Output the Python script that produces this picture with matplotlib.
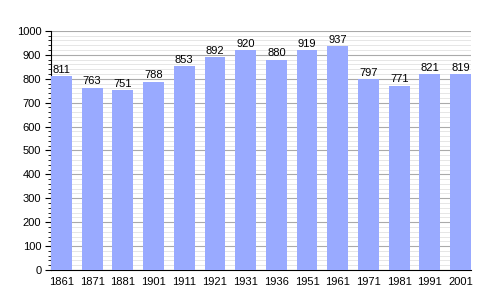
import matplotlib.pyplot as plt
from matplotlib.ticker import MultipleLocator

plt.rcParams['font.family'] = ['Liberation Sans', 'DejaVu Sans']

years = ['1861', '1871', '1881', '1901', '1911', '1921', '1931', '1936',
         '1951', '1961', '1971', '1981', '1991', '2001']
population = [811, 763, 751, 788, 853, 892, 920, 880, 919, 937, 797, 771, 821, 819]

fig = plt.figure(figsize=(5, 3), dpi=100)
ax = fig.add_axes([0.102, 0.1, 0.84, 0.797])

w = 0.68
x = list(range(len(years)))
ax.bar(x, population, width=w, color='#99aaff', zorder=3)
for xi, v in zip(x, population):
    ax.text(xi, v + 5, str(v), ha='center', va='bottom', fontsize=8, zorder=4)

ax.set_xlim(-w / 2, len(years) - 1 + w / 2)
ax.set_ylim(0, 1000)
ax.set_xticks(x)
ax.set_xticklabels(years, fontsize=8)
ax.tick_params(axis='x', length=0, pad=5)
ax.yaxis.set_major_locator(MultipleLocator(100))
ax.yaxis.set_minor_locator(MultipleLocator(20))
ax.tick_params(axis='y', which='major', length=4, labelsize=8, pad=3)
ax.tick_params(axis='y', which='minor', length=2)
ax.grid(axis='y', which='major', color='#aaaaaa', linewidth=0.8, zorder=0)
ax.grid(axis='y', which='minor', color='#e2e2e2', linewidth=0.6, zorder=0)
ax.spines['top'].set_visible(False)
ax.spines['right'].set_visible(False)

fig.savefig('out.png')
